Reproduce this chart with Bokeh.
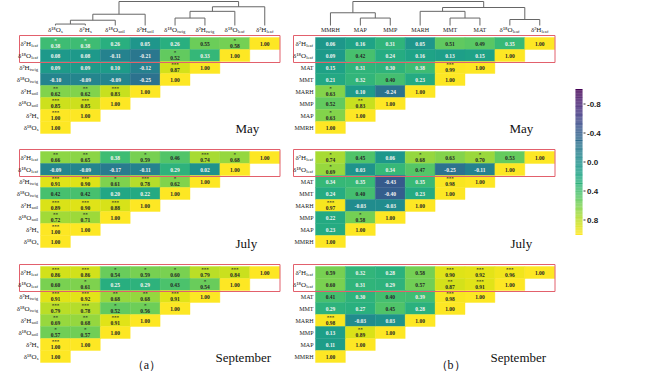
import numpy as np
from bokeh.plotting import figure
from bokeh.models import Range1d, ColumnDataSource, LinearColorMapper
from bokeh.palettes import Viridis256
from bokeh.transform import transform
from bokeh.core.properties import value
from bokeh.embed import file_html
from bokeh.resources import INLINE

# ---------------- data ----------------
months = ["May", "July", "September"]

a_col_main = ["δ¹⁸O", "δ²H", "δ¹⁸O", "δ²H", "δ¹⁸O", "δ²H", "δ¹⁸O", "δ²H"]
a_col_sub = ["s", "s", "soil", "soil", "twig", "twig", "leaf", "leaf"]

b_col_main = ["MMRH", "MAP", "MMP", "MARH", "MMT", "MAT", "δ¹⁸O", "δ²H"]
b_col_sub = ["", "", "", "", "", "", "leaf", "leaf"]

a_may = [[0.38, 0.38, 0.26, 0.05, 0.26, 0.55, 0.58, 1.00],
         [0.08, 0.08, -0.11, -0.21, 0.52, 0.33, 1.00],
         [0.09, 0.09, 0.10, -0.12, 0.87, 1.00],
         [-0.10, -0.09, -0.09, -0.25, 1.00],
         [0.62, 0.62, 0.83, 1.00],
         [0.85, 0.85, 1.00],
         [1.00, 1.00],
         [1.00]]
a_may_sig = [["*", "*", "", "", "", "", "*", ""],
             ["", "", "", "", "*", "", ""],
             ["", "", "", "", "***", ""],
             ["", "", "", "", ""],
             ["**", "**", "***", ""],
             ["***", "***", ""],
             ["***", ""],
             [""]]

a_jul = [[0.66, 0.65, 0.38, 0.59, 0.46, 0.74, 0.68, 1.00],
         [-0.09, -0.09, -0.17, -0.11, 0.29, 0.02, 1.00],
         [0.91, 0.90, 0.61, 0.78, 0.62, 1.00],
         [0.42, 0.42, 0.20, 0.22, 1.00],
         [0.89, 0.90, 0.88, 1.00],
         [0.72, 0.71, 1.00],
         [1.00, 1.00],
         [1.00]]
a_jul_sig = [["**", "**", "", "*", "", "***", "*", ""],
             ["", "", "", "", "", "", ""],
             ["***", "***", "*", "***", "*", ""],
             ["", "", "", "", ""],
             ["***", "***", "***", ""],
             ["**", "**", ""],
             ["***", ""],
             [""]]

a_sep = [[0.86, 0.86, 0.54, 0.59, 0.60, 0.79, 0.84, 1.00],
         [0.60, 0.61, 0.25, 0.29, 0.43, 0.54, 1.00],
         [0.91, 0.92, 0.68, 0.68, 0.91, 1.00],
         [0.79, 0.78, 0.52, 0.56, 1.00],
         [0.69, 0.68, 0.91, 1.00],
         [0.57, 0.57, 1.00],
         [1.00, 1.00],
         [1.00]]
a_sep_sig = [["***", "***", "*", "*", "*", "***", "***", ""],
             ["", "*", "", "", "", "*", ""],
             ["***", "***", "**", "**", "***", ""],
             ["***", "***", "*", "*", ""],
             ["**", "**", "***", ""],
             ["*", "*", ""],
             ["***", ""],
             [""]]

b_may = [[0.06, 0.16, 0.31, 0.05, 0.51, 0.49, 0.35, 1.00],
         [0.09, 0.42, 0.24, 0.16, 0.13, 0.15, 1.00],
         [0.15, 0.31, 0.30, 0.38, 0.99, 1.00],
         [0.21, 0.32, 0.40, 0.23, 1.00],
         [0.63, 0.10, -0.24, 1.00],
         [0.52, 0.83, 1.00],
         [0.63, 1.00],
         [1.00]]
b_may_sig = [["", "", "", "", "", "", "", ""],
             ["", "", "", "", "", "", ""],
             ["", "", "", "", "***", ""],
             ["", "", "", "", ""],
             ["*", "", "", ""],
             ["", "**", ""],
             ["*", ""],
             [""]]

b_jul = [[0.74, 0.45, 0.06, 0.68, 0.63, 0.70, 0.53, 1.00],
         [0.69, 0.03, 0.34, 0.47, -0.25, -0.11, 1.00],
         [0.34, 0.35, -0.43, 0.35, 0.98, 1.00],
         [0.24, 0.40, -0.40, 0.23, 1.00],
         [0.97, -0.03, -0.03, 1.00],
         [0.22, 0.58, 1.00],
         [0.23, 1.00],
         [1.00]]
b_jul_sig = [["*", "", "", "*", "", "*", "", ""],
             ["*", "", "", "", "", "", ""],
             ["", "", "", "", "***", ""],
             ["", "", "", "", ""],
             ["***", "", "", ""],
             ["", "*", ""],
             ["", ""],
             [""]]

b_sep = [[0.59, 0.32, 0.28, 0.58, 0.90, 0.92, 0.96, 1.00],
         [0.60, 0.31, 0.29, 0.57, 0.87, 0.91, 1.00],
         [0.41, 0.30, 0.40, 0.39, 0.98, 1.00],
         [0.29, 0.27, 0.45, 0.28, 1.00],
         [0.98, -0.03, 0.03, 1.00],
         [0.13, 0.89, 1.00],
         [0.11, 1.00],
         [1.00]]
b_sep_sig = [["", "", "", "", "***", "***", "***", ""],
             ["", "", "", "", "**", "***", ""],
             ["", "", "", "", "***", ""],
             ["", "", "", "", ""],
             ["***", "", "", ""],
             ["", "**", ""],
             ["", ""],
             [""]]

# dendrogram merges: (left node, right node, relative height)
a_links = [(0, 1, 0.06), (8, 2, 0.22), (9, 3, 0.47), (4, 5, 0.31),
           (11, 6, 0.59), (12, 7, 0.78), (10, 13, 1.0)]
b_links = [(1, 2, 0.31), (0, 8, 0.53), (4, 5, 0.31), (3, 10, 0.59),
           (6, 7, 0.25), (11, 12, 0.75), (9, 13, 1.0)]

cb_ticks = [-0.8, -0.4, 0.0, 0.4, 0.8]
cb_labels = ["-0.8", "-0.4", "0.0", "0.4", "0.8"]

# ---------------- layout ----------------
FONT = "Liberation Serif"
W, H = 644, 371
p = figure(width=W, height=H, x_range=Range1d(8, 8 + W), y_range=Range1d(8 + H, 8),
           x_axis_location=None, y_axis_location=None, output_backend="svg",
           toolbar_location=None, min_border=0)
p.grid.visible = False
p.outline_line_color = None

mapper = LinearColorMapper(palette=Viridis256, low=-1, high=1)

CW, CH = 29.9, 12.0
PANELS = {
    "a": dict(x0=48.0, data=[(a_may, a_may_sig), (a_jul, a_jul_sig), (a_sep, a_sep_sig)],
              main=a_col_main, sub=a_col_sub, links=a_links, label_r=46.0, box_l=27.0,
              month_pos=[(243, 136), (243, 251), (223, 365)], tag="（a）", tag_x=154),
    "b": dict(x0=323.0, data=[(b_may, b_may_sig), (b_jul, b_jul_sig), (b_sep, b_sep_sig)],
              main=b_col_main, sub=b_col_sub, links=b_links, label_r=321.0, box_l=301.0,
              month_pos=[(517, 136), (518, 251), (498, 365)], tag="（b）", tag_x=458),
}
MONTH_Y = [45.0, 159.0, 274.0]

W_EM = {'δ': 0.5, '¹': 0.3, '⁸': 0.3, '²': 0.3, 'O': 0.722, 'H': 0.722, 'l': .278, 'e': .444,
        'a': .444, 'f': .333, 't': .278, 'w': .722, 'i': .278, 'g': .5, 's': .389, 'o': .5}


def est(s, size):
    return sum(W_EM.get(c, 0.5) for c in s) * size


cells = dict(x=[], y=[], v=[])
nums = dict(x=[], y=[], t=[], c=[])
stars = dict(x=[], y=[], t=[], c=[])
lab_main_r = dict(x=[], y=[], t=[], s=[])   # right aligned
lab_main_c = dict(x=[], y=[], t=[], s=[])   # centered
lab_sub = dict(x=[], y=[], t=[])
boxes = dict(l=[], r=[], t=[], b=[])
seg = dict(x0=[], y0=[], x1=[], y1=[])

for key, P in PANELS.items():
    x0 = P["x0"]
    for mi, (vals, sigs) in enumerate(P["data"]):
        y0 = MONTH_Y[mi]
        for i, (row, srow) in enumerate(zip(vals, sigs)):
            yc = y0 + (i + 0.5) * CH
            for j, (v, s) in enumerate(zip(row, srow)):
                xc = x0 + (j + 0.5) * CW
                cells["x"].append(xc); cells["y"].append(yc); cells["v"].append(v)
                col = "#f4f4f4" if v < 0.4 else "#262626"
                if s:
                    stars["x"].append(xc); stars["y"].append(yc - 2.6)
                    stars["t"].append(s); stars["c"].append(col)
                    nums["y"].append(yc + 2.0)
                else:
                    nums["y"].append(yc)
                nums["x"].append(xc); nums["t"].append(f"{v:.2f}"); nums["c"].append(col)
            # row label
            k = 7 - i
            main, sub = P["main"][k], P["sub"][k]
            xr = P["label_r"]
            if sub:
                ws = est(sub, 5)
                lab_main_r["x"].append(xr - ws); lab_main_r["y"].append(yc)
                lab_main_r["t"].append(main); lab_main_r["s"].append("7px")
                lab_sub["x"].append(xr - ws + 0.2); lab_sub["y"].append(yc + 2.3); lab_sub["t"].append(sub)
            else:
                lab_main_r["x"].append(xr); lab_main_r["y"].append(yc)
                lab_main_r["t"].append(main); lab_main_r["s"].append("6px")
        boxes["l"].append(P["box_l"]); boxes["r"].append(x0 + 8 * CW + 0.3)
        boxes["t"].append(y0 - 2); boxes["b"].append(y0 + 2 * CH + 1)
    # column labels (top panel only)
    for j in range(8):
        xc = x0 + (j + 0.5) * CW
        main, sub = P["main"][j], P["sub"][j]
        if sub:
            wm, ws = est(main, 7), est(sub, 5)
            anchor = xc - (wm + ws) / 2 + wm
            lab_main_r["x"].append(anchor); lab_main_r["y"].append(37.0)
            lab_main_r["t"].append(main); lab_main_r["s"].append("7px")
            lab_sub["x"].append(anchor + 0.2); lab_sub["y"].append(39.3); lab_sub["t"].append(sub)
        else:
            lab_main_c["x"].append(xc); lab_main_c["y"].append(37.0)
            lab_main_c["t"].append(main); lab_main_c["s"].append("6px")
    # dendrogram
    pos = {i: (x0 + (i + 0.5) * CW, 33.0) for i in range(8)}
    for n, (l, r, h) in enumerate(P["links"]):
        ym = 33.0 - h * 24.0
        (xl, yl), (xr2, yr) = pos[l], pos[r]
        for a, b, c, d in [(xl, yl, xl, ym), (xl, ym, xr2, ym), (xr2, yr, xr2, ym)]:
            seg["x0"].append(a); seg["y0"].append(b); seg["x1"].append(c); seg["y1"].append(d)
        pos[8 + n] = ((xl + xr2) / 2, ym)

# cells
p.rect(x="x", y="y", width=CW, height=CH, source=ColumnDataSource(cells),
       fill_color=transform("v", mapper), line_color=transform("v", mapper), line_width=0.4)
# red boxes
p.quad(left="l", right="r", top="t", bottom="b", source=ColumnDataSource(boxes),
       fill_color=None, line_color="#e2606c", line_width=1)
# numbers & stars
p.text(x="x", y="y", text="t", source=ColumnDataSource(nums), text_color="c",
       text_font=value(FONT), text_font_size=value("5.5px"), text_font_style="bold",
       text_align="center", text_baseline="middle")
p.text(x="x", y="y", text="t", source=ColumnDataSource(stars), text_color="c",
       text_font=value(FONT), text_font_size=value("5px"), text_font_style="bold",
       text_align="center", text_baseline="middle")
# labels
p.text(x="x", y="y", text="t", source=ColumnDataSource(lab_main_r), text_color="#222222",
       text_font=value(FONT), text_font_size="s", text_align="right", text_baseline="middle")
p.text(x="x", y="y", text="t", source=ColumnDataSource(lab_main_c), text_color="#222222",
       text_font=value(FONT), text_font_size="s", text_align="center", text_baseline="middle")
p.text(x="x", y="y", text="t", source=ColumnDataSource(lab_sub), text_color="#222222",
       text_font=value(FONT), text_font_size=value("4.6px"), text_align="left", text_baseline="middle")
# dendrograms
p.segment(x0="x0", y0="y0", x1="x1", y1="y1", source=ColumnDataSource(seg),
          line_color="#666666", line_width=1)

# month labels and panel tags
for key, P in PANELS.items():
    for (mx, my), name in zip(P["month_pos"], months):
        p.text(x=[mx], y=[my], text=[name], text_font=value(FONT), text_font_size=value("13px"),
               text_color="#111111", text_align="left", text_baseline="alphabetic")
    p.text(x=[P["tag_x"]], y=[372], text=[P["tag"]], text_font=value(FONT),
           text_font_size=value("12px"), text_color="#111111", text_align="center",
           text_baseline="middle")

# colour bar (vertical, -1 at top)
CB_X, CB_Y, CB_HALF = 586.5, 169.5, 72.5
cb_v = np.linspace(-1, 1, 200)
step = 2 * CB_HALF / 200
p.rect(x=[CB_X] * len(cb_v), y=list(CB_Y + cb_v * CB_HALF), width=7, height=step * 1.05,
       fill_color=[Viridis256[min(255, int((v + 1) / 2 * 256))] for v in cb_v], line_color=None)
ty = [CB_Y + t * CB_HALF for t in cb_ticks]
p.segment(x0=[CB_X + 4.5] * 5, y0=ty, x1=[CB_X + 6.5] * 5, y1=ty, line_color="#333333", line_width=1)
p.text(x=[CB_X + 8] * 5, y=ty, text=cb_labels, text_font=value("Liberation Sans"),
       text_font_size=value("8px"), text_font_style="bold", text_color="#222222",
       text_align="left", text_baseline="middle")

open("out.html", "w").write(file_html(p, INLINE))
